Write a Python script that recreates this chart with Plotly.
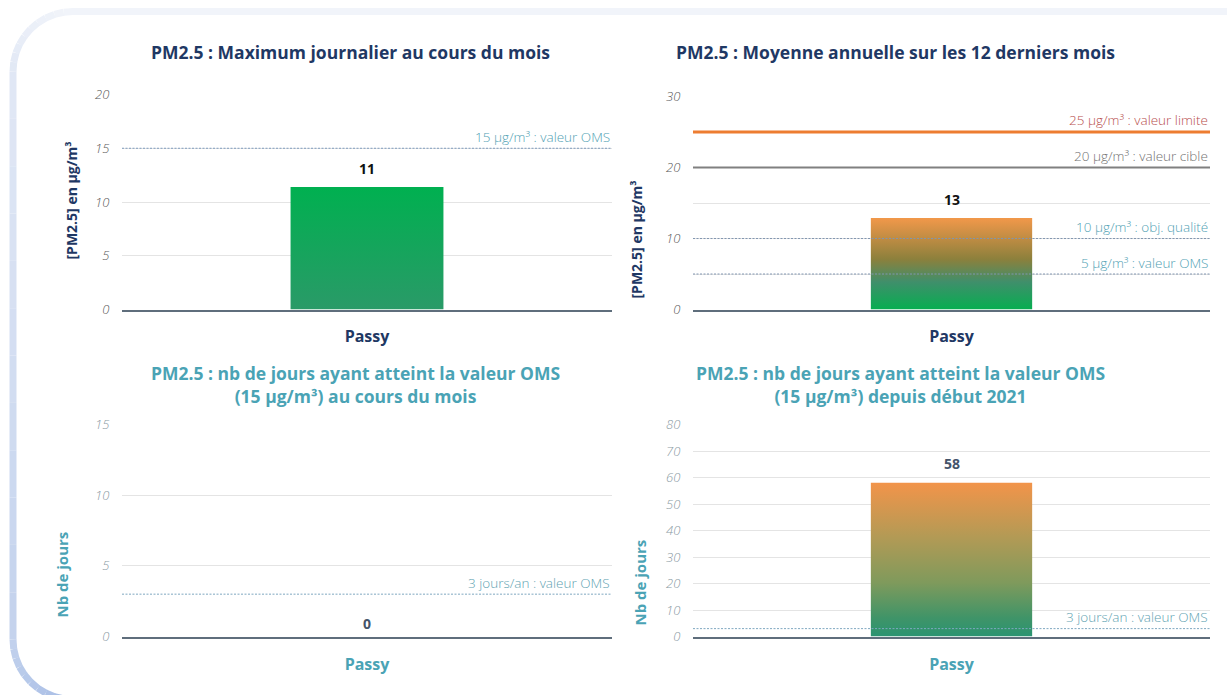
import math
import plotly.graph_objects as go

# ---------------- data ----------------
categories = ["Passy"]
max_journalier = [11.4]          # PM2.5 daily maximum in the month (µg/m³)
moyenne_annuelle = [12.9]        # annual mean over last 12 months (µg/m³)
jours_mois = [0]                 # days reaching WHO value this month
jours_2021 = [58]                # days reaching WHO value since start 2021

tl_ref_values = [15]
tl_ref_labels = ["15 µg/m³ : valeur OMS"]
tr_ref_values = [25, 20, 10, 5]
tr_ref_labels = ["25 µg/m³ : valeur limite", "20 µg/m³ : valeur cible",
                 "10 µg/m³ : obj. qualité", "5 µg/m³ : valeur OMS"]
bl_ref_values = [3]
bl_ref_labels = ["3 jours/an : valeur OMS"]
br_ref_values = [3]
br_ref_labels = ["3 jours/an : valeur OMS"]

titles = ["PM2.5 : Maximum journalier au cours du mois",
          "PM2.5 : Moyenne annuelle sur les 12 derniers mois",
          "PM2.5 : nb de jours ayant atteint la valeur OMS<br>(15 µg/m³) au cours du mois",
          "PM2.5 : nb de jours ayant atteint la valeur OMS<br>(15 µg/m³) depuis début 2021"]
ytitles = ["[PM2.5] en µg/m³", "[PM2.5] en µg/m³", "Nb de jours", "Nb de jours"]

# ---------------- styles ----------------
W, H = 1227, 695
NAVY = "#1f3864"
TEAL = "#4aa3b5"
FONT = "Open Sans"
GRID = "#e4e4e4"
AXLINE = "#5f6e7c"
HALF = 0.156
DOT = "2px,1.5px"
Y_OFF, Y_SCALE = 9.5, 0.974   # compensation for vertical placement in the snapshot


def px(x):
    return x / W


def py(y):
    return 1 - ((y - Y_OFF) / Y_SCALE) / H


panels = [
    dict(values=max_journalier, rng=[0, 20], dtick=5, minor=None,
         xd=[px(122), px(612)], yd=[py(310), py(95)],
         grad=[[0, "#2a9a68"], [1, "#00b050"]],
         refs=tl_ref_values, rlabels=tl_ref_labels,
         rstyle=[dict(color="#7f9cbf", width=1, dash=DOT)],
         rcolors=["#52a2b4"],
         tcol=NAVY, tickcol="#595959", valcol="#111111", vshift=7,
         title_y=52, title_x=350, ytx=72, yty=201, ytsize=14),
    dict(values=moyenne_annuelle, rng=[0, 30], dtick=10, minor=5,
         xd=[px(693), px(1210)], yd=[py(310), py(97)],
         grad=[[0, "#06ae50"], [0.3, "#3f8f6b"], [0.55, "#8c803c"], [1, "#f2984a"]],
         refs=tr_ref_values, rlabels=tr_ref_labels,
         rstyle=[dict(color="#ed7d31", width=3, dash="solid"),
                 dict(color="#808080", width=2, dash="solid"),
                 dict(color="#8096b0", width=1, dash=DOT),
                 dict(color="#8096b0", width=1, dash=DOT)],
         rcolors=["#b8504e", "#737373", "#52a2b4", "#52a2b4"],
         tcol=NAVY, tickcol="#595959", valcol="#111111", vshift=7,
         title_y=52, title_x=895, ytx=637, yty=240, ytsize=14),
    dict(values=jours_mois, rng=[0, 15], dtick=5, minor=None,
         xd=[px(122), px(612)], yd=[py(637), py(425)],
         grad=[[0, "#2a9a68"], [1, "#00b050"]],
         refs=bl_ref_values, rlabels=bl_ref_labels,
         rstyle=[dict(color="#7fa8c0", width=1, dash=DOT)],
         rcolors=["#5fa3b2"],
         tcol=TEAL, tickcol="#8a9aa3", valcol="#44546a", vshift=2,
         title_y=385, title_x=355, ytx=62, yty=575, ytsize=15),
    dict(values=jours_2021, rng=[0, 80], dtick=10, minor=None,
         xd=[px(693), px(1210)], yd=[py(637), py(425)],
         grad=[[0, "#2a9472"], [0.12, "#3f9468"], [0.35, "#7f9a5c"],
               [0.65, "#b39a55"], [1, "#f2944a"]],
         refs=br_ref_values, rlabels=br_ref_labels,
         rstyle=[dict(color="#7fa8c0", width=1, dash=DOT)],
         rcolors=["#5fa3b2"],
         tcol=TEAL, tickcol="#8a9aa3", valcol="#44546a", vshift=8,
         title_y=385, title_x=900, ytx=640, yty=583, ytsize=15),
]

fig = go.Figure()
annotations = []
shapes = []

for i, p in enumerate(panels):
    n = "" if i == 0 else str(i + 1)
    xa, ya = "x" + n, "y" + n
    v = p["values"][0]
    # bar drawn as filled polygon to get a vertical gradient
    fig.add_trace(go.Scatter(
        x=[-HALF, HALF, HALF, -HALF, -HALF], y=[0, 0, v, v, 0],
        mode="lines", line=dict(width=0), fill="toself",
        fillgradient=dict(type="vertical", colorscale=p["grad"]),
        xaxis=xa, yaxis=ya, showlegend=False, hoverinfo="skip"))
    fig.add_trace(go.Scatter(
        x=[0], y=[v], mode="markers", marker=dict(opacity=0),
        xaxis=xa, yaxis=ya, showlegend=False,
        hovertemplate=categories[0] + ": %{y}<extra></extra>"))
    # value label
    annotations.append(dict(x=0, y=v, xref=xa, yref=ya, text=f"{v:.0f}",
                            showarrow=False, yanchor="bottom", yshift=p["vshift"],
                            font=dict(family=FONT, size=14, color=p["valcol"], weight="bold")))
    # reference lines
    for val, lab, st, col in zip(p["refs"], p["rlabels"], p["rstyle"], p["rcolors"]):
        shapes.append(dict(type="line", xref=xa + " domain", yref=ya,
                           x0=0, x1=1, y0=val, y1=val, line=st, layer="above"))
        annotations.append(dict(x=1, y=val, xref=xa + " domain", yref=ya, text=lab,
                                showarrow=False, xanchor="right", yanchor="bottom",
                                yshift=st["width"] / 2,
                                font=dict(family=FONT, size=13.5, color=col, weight=300)))
    # titles
    annotations.append(dict(x=px(p["title_x"]), y=py(p["title_y"]), xref="paper", yref="paper",
                            text="<b>" + titles[i] + "</b>", showarrow=False,
                            xanchor="center", yanchor="middle",
                            font=dict(family=FONT, size=17.5, color=p["tcol"])))
    annotations.append(dict(x=px(p["ytx"]), y=py(p["yty"]), xref="paper", yref="paper",
                            text="<b>" + ytitles[i] + "</b>", showarrow=False, textangle=-90,
                            xanchor="center", yanchor="middle",
                            font=dict(family=FONT, size=p["ytsize"], color=p["tcol"])))
    xkey = "xaxis" + n
    ykey = "yaxis" + n
    yax = dict(domain=p["yd"], anchor=xa, range=p["rng"], dtick=p["dtick"],
               showgrid=True, gridcolor=GRID, gridwidth=1, zeroline=False,
               showline=False, ticks="outside", ticklen=9, tickcolor="rgba(0,0,0,0)",
               tickfont=dict(family=FONT, size=13, color=p["tickcol"], style="italic",
                             weight=300),
               fixedrange=True)
    if p["minor"]:
        yax["minor"] = dict(dtick=p["minor"], showgrid=True, gridcolor=GRID, gridwidth=1)
    fig.update_layout({
        xkey: dict(domain=p["xd"], anchor=ya, range=[-0.5, 0.5],
                   tickvals=[0], ticktext=categories, showgrid=False, zeroline=False,
                   showline=True, linecolor=AXLINE, linewidth=1.5,
                   ticks="outside", ticklen=12, tickcolor="rgba(0,0,0,0)",
                   tickfont=dict(family=FONT, size=16, color=p["tcol"], weight="bold"),
                   fixedrange=True),
        ykey: yax,
    })

# ---------------- decorative frame ----------------
shapes.append(dict(type="line", xref="paper", yref="paper",
                   x0=px(72), x1=px(W), y0=py(12), y1=py(12),
                   line=dict(color="#f1f4fa", width=7), layer="below"))
R = 60
cx_top, cy_top = 13 + R, 12 + R
cx_bot, cy_bot = 13 + R, 640
pts = []
for k in range(0, 11):
    a = math.pi * 1.5 - k * (math.pi / 2) / 10
    pts.append((cx_top + R * math.cos(a), cy_top + R * math.sin(a)))
steps = 12
for k in range(1, steps):
    pts.append((13, cy_top + (cy_bot - cy_top) * k / steps))
for k in range(0, 11):
    a = math.pi - k * (math.pi / 2) / 10
    pts.append((cx_bot + R * math.cos(a), cy_bot + R * math.sin(a)))
c0 = (241, 244, 250)
c1 = (168, 190, 230)
for k in range(len(pts) - 1):
    t = k / (len(pts) - 2)
    t = t ** 1.3
    col = "rgb(%d,%d,%d)" % tuple(int(c0[j] + (c1[j] - c0[j]) * t) for j in range(3))
    (xa_, ya_), (xb_, yb_) = pts[k], pts[k + 1]
    shapes.append(dict(type="line", xref="paper", yref="paper",
                       x0=px(xa_), y0=py(ya_), x1=px(xb_), y1=py(yb_),
                       line=dict(color=col, width=7), layer="below"))

fig.update_layout(width=W, height=H, margin=dict(l=0, r=0, t=0, b=0),
                  paper_bgcolor="white", plot_bgcolor="rgba(0,0,0,0)",
                  showlegend=False, annotations=annotations, shapes=shapes,
                  font=dict(family=FONT))

post = ("document.documentElement.style.margin='0';"
        "document.documentElement.style.overflow='hidden';"
        "document.body.style.margin='0';document.body.style.overflow='hidden';"
        "var gd=document.getElementById('{plot_id}');"
        "gd.style.position='fixed';gd.style.top='0px';gd.style.left='0px';")

fig.write_html("out.html", config={"displayModeBar": False}, post_script=post)
